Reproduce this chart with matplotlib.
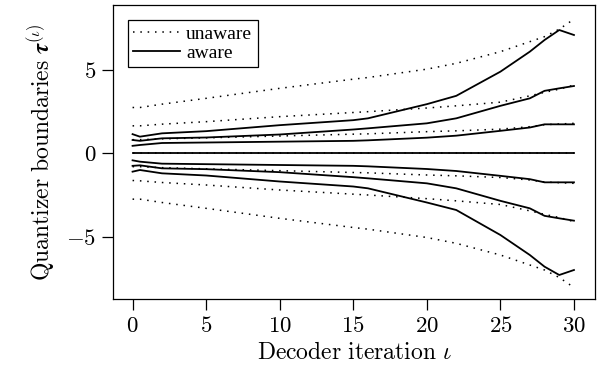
import numpy as np
import matplotlib.pyplot as plt
from matplotlib.ticker import FixedLocator, FixedFormatter

plt.rcParams['mathtext.fontset'] = 'cm'
plt.rcParams['font.family'] = ['Liberation Serif', 'DejaVu Serif']

iters = [0, 0.5, 2, 5, 10, 15, 16, 20, 22, 25, 27, 28, 29, 30]

# unaware quantizer boundaries (dotted)
unaware_c_up = [2.75, 2.75, 2.95, 3.3, 3.9, 4.45, 4.55, 5.05, 5.4, 6.1, 6.7, 7.0, 7.45, 8.05]
unaware_b_up = [1.65, 1.65, 1.75, 1.9, 2.2, 2.45, 2.5, 2.72, 2.85, 3.07, 3.45, 3.66, 3.85, 4.1]
unaware_a_up = [0.82, 0.82, 0.87, 0.93, 1.04, 1.15, 1.17, 1.3, 1.35, 1.45, 1.6, 1.72, 1.76, 1.8]
unaware_zero = [0.0] * 14
unaware_a_lo = [-0.8, -0.8, -0.86, -0.93, -1.04, -1.15, -1.17, -1.3, -1.35, -1.45, -1.6, -1.72, -1.76, -1.8]
unaware_b_lo = [-1.63, -1.65, -1.75, -1.9, -2.2, -2.45, -2.5, -2.72, -2.85, -3.07, -3.45, -3.66, -3.85, -4.1]
unaware_c_lo = [-2.75, -2.75, -2.95, -3.3, -3.9, -4.45, -4.55, -5.05, -5.4, -6.1, -6.7, -7.0, -7.45, -8.05]

# aware quantizer boundaries (solid)
aware_c_up = [1.15, 1.0, 1.2, 1.33, 1.69, 1.99, 2.1, 2.95, 3.45, 4.9, 6.1, 6.8, 7.4, 7.1]
aware_b_up = [0.8, 0.75, 0.9, 0.95, 1.13, 1.43, 1.5, 1.8, 2.1, 2.85, 3.3, 3.75, 3.9, 4.04]
aware_a_up = [0.45, 0.5, 0.62, 0.65, 0.7, 0.75, 0.78, 0.94, 1.06, 1.35, 1.55, 1.74, 1.74, 1.74]
aware_zero = [0.0] * 14
aware_a_lo = [-0.42, -0.5, -0.62, -0.65, -0.7, -0.75, -0.78, -0.94, -1.06, -1.35, -1.55, -1.74, -1.74, -1.74]
aware_b_lo = [-0.75, -0.72, -0.9, -0.95, -1.13, -1.43, -1.5, -1.8, -2.1, -2.85, -3.3, -3.75, -3.9, -4.04]
aware_c_lo = [-1.1, -1.0, -1.2, -1.33, -1.69, -1.99, -2.1, -2.95, -3.4, -4.9, -6.1, -6.8, -7.3, -7.0]

x_ticks = [0, 5, 10, 15, 20, 25, 30]
y_ticks = [-5, 0, 5]

unaware = [unaware_c_up, unaware_b_up, unaware_a_up, unaware_zero,
           unaware_a_lo, unaware_b_lo, unaware_c_lo]
aware = [aware_c_up, aware_b_up, aware_a_up, aware_zero,
         aware_a_lo, aware_b_lo, aware_c_lo]

fig = plt.figure(figsize=(5.99, 3.82), dpi=100)
ax = fig.add_axes([113 / 599, 1 - 299 / 382, 482 / 599, 294 / 382])

for i, yv in enumerate(unaware):
    ax.plot(iters, yv, color='black', lw=1.1, linestyle=(0, (1, 3.8)),
            label='unaware' if i == 0 else None)
for i, yv in enumerate(aware):
    ax.plot(iters, yv, color='black', lw=1.3,
            label='aware' if i == 0 else None)

ax.set_xlim(-1.33, 31.43)
ax.set_ylim(-8.74, 8.9)

ax.xaxis.set_major_locator(FixedLocator(x_ticks))
ax.xaxis.set_major_formatter(FixedFormatter(['$%d$' % v for v in x_ticks]))
ax.yaxis.set_major_locator(FixedLocator(y_ticks))
ax.yaxis.set_major_formatter(FixedFormatter(['$%d$' % v for v in y_ticks]))
ax.tick_params(direction='out', length=8, width=0.9, labelsize=16.5, pad=4)

for sp in ax.spines.values():
    sp.set_linewidth(0.9)

ax.set_xlabel(r'$\mathrm{Decoder\ iteration}\ \iota$', fontsize=17, labelpad=4)
ax.set_ylabel(r'$\mathrm{Quantizer\ boundaries}\ \boldsymbol{\tau}^{(\iota)}$',
              fontsize=17, labelpad=6)

leg = ax.legend(loc='upper left', fontsize=14, frameon=True, fancybox=False,
                edgecolor='black', framealpha=1, handlelength=2.4,
                handletextpad=0.3, borderpad=0.3, labelspacing=0.05,
                borderaxespad=0.75)
leg.get_frame().set_linewidth(0.9)

fig.savefig('out.png', dpi=100)
